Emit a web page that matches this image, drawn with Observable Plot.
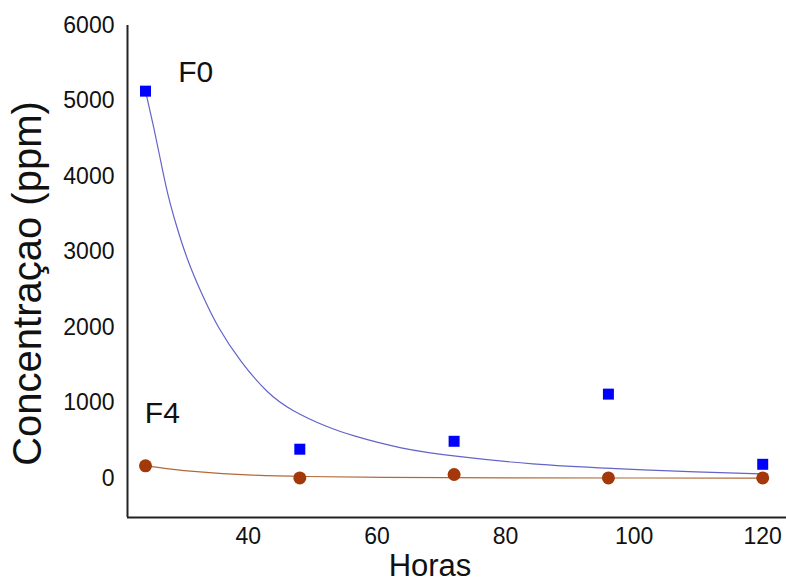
<!DOCTYPE html>
<html><head><meta charset="utf-8">
<script src="https://cdn.jsdelivr.net/npm/d3@7"></script>
<script src="https://cdn.jsdelivr.net/npm/@observablehq/plot@0.6"></script>
<style>body{margin:0;background:#fff}</style>
</head><body><div id="chart"></div>
<script>
const hours = [24, 48, 72, 96, 120];
const f0Values = [5130, 385, 490, 1115, 185];
const f4Values = [165, 5, 50, 5, 5];
const f0CurveX = [24, 25.3, 26.35, 27.4, 28.85, 30.5, 32.7, 35.2, 38.8, 43, 46.6, 52.3, 55.9, 63.7, 71.9, 84.4, 95.9, 110.4, 120];
const f0CurveY = [5130, 4650, 4210, 3770, 3330, 2890, 2450, 2000, 1540, 1120, 900, 675, 570, 390, 291, 180, 132, 80, 58];
const f4CurveX = [24, 28, 32, 36, 40, 48, 60, 80, 100, 120];
const f4CurveY = [165, 120, 85, 60, 42, 22, 10, 5, 3, 2];
const xTicks = [40, 60, 80, 100, 120];
const yTicks = [0, 1000, 2000, 3000, 4000, 5000, 6000];
const xDomain = [21.2, 123.7];
const yDomain = [-520, 6000];
const seriesLabels = ["F0", "F4"];
const labelX = [29.1, 23.9];
const labelY = [5377, 861];

const pts0 = hours.map((h, i) => ({x: h, y: f0Values[i]}));
const pts4 = hours.map((h, i) => ({x: h, y: f4Values[i]}));
const c0 = f0CurveX.map((x, i) => ({x, y: f0CurveY[i]}));
const c4 = f4CurveX.map((x, i) => ({x, y: f4CurveY[i]}));
const labs = seriesLabels.map((t, i) => ({t, x: labelX[i], y: labelY[i]}));

const chart = Plot.plot({
  width: 786, height: 581,
  marginLeft: 127, marginRight: 0, marginTop: 25, marginBottom: 64,
  style: {fontFamily: "Liberation Sans, Arial, sans-serif", fontSize: "23px", background: "#fff", color: "#111"},
  x: {domain: xDomain},
  y: {domain: yDomain},
  marks: [
    Plot.axisY({ticks: yTicks, tickSize: 0, tickPadding: 13, fontSize: 23, tickFormat: d => String(d), label: null}),
    Plot.axisX({ticks: xTicks, tickSize: 0, tickPadding: 10, fontSize: 23, tickFormat: d => String(d), label: null}),
    Plot.ruleX([xDomain[0]], {stroke: "#222", strokeWidth: 2}),
    Plot.ruleY([yDomain[0]], {stroke: "#222", strokeWidth: 2}),
    Plot.line(c0, {x: "x", y: "y", curve: "basis", stroke: "#6464c8", strokeWidth: 1.2}),
    Plot.line(c4, {x: "x", y: "y", curve: "basis", stroke: "#b06a3a", strokeWidth: 1.2}),
    Plot.dot(pts0, {x: "x", y: "y", symbol: "square", r: 6.2, fill: "#0000ff", stroke: "none"}),
    Plot.dot(pts4, {x: "x", y: "y", symbol: "circle", r: 6.5, fill: "#a3380a", stroke: "none"}),
    Plot.text(labs, {x: "x", y: "y", text: "t", textAnchor: "start", fontSize: 30, fill: "#111"}),
    Plot.text(["Concentraçao (ppm)"], {frameAnchor: "left", textAnchor: "middle", rotate: -90, dx: -99, dy: 12, fontSize: 40, fill: "#111"}),
    Plot.text(["Horas"], {frameAnchor: "bottom", textAnchor: "middle", dx: -27, dy: 58, fontSize: 31, fill: "#111"})
  ]
});
document.getElementById("chart").append(chart);
</script>
</body></html>
